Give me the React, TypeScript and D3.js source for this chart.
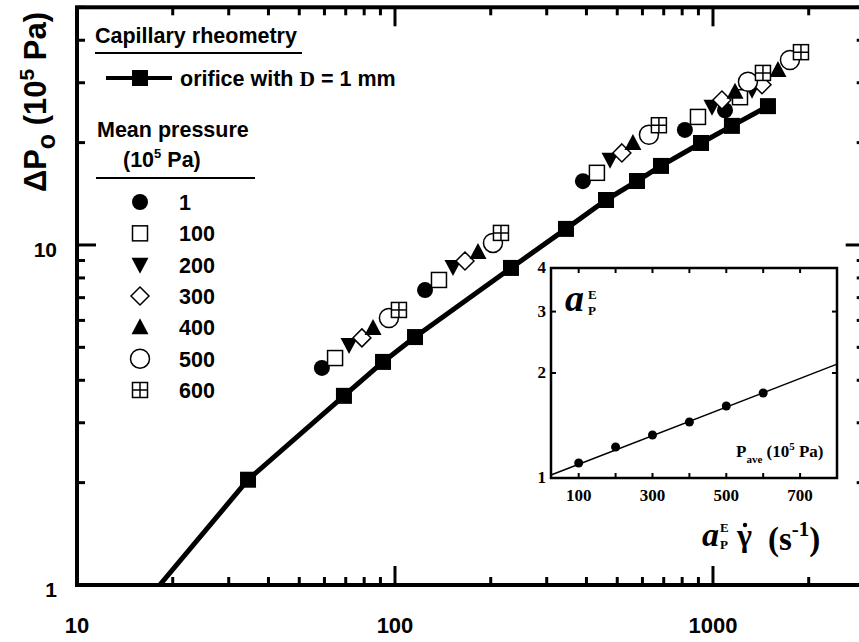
import React from 'react';
import * as d3 from 'd3';

// orifice with D = 1 mm (filled squares joined by a thick line)
const orificeX = [34.5, 69.1, 91.7, 115.6, 231.6, 344.9, 460.9, 576.8, 686.3, 917, 1147, 1489];
const orificeY = [2.04, 3.6, 4.53, 5.36, 8.56, 11.15, 13.56, 15.42, 17.08, 19.95, 22.4, 25.6];
const orificeLineStart = [18.2, 1.0];

// mean pressure series (10^5 Pa) -> shifted rate / pressure drop
const pressures = ['1', '100', '200', '300', '400', '500', '600'];
const markerKinds = ['filledCircle', 'openSquare', 'downTri', 'diamond', 'upTri', 'openCircle', 'grid'];
const seriesX = [
  [58.9, 124.3, 389.9, 816, 1091],
  [64.8, 137.5, 431.5, 897, 1216],
  [71.7, 152.2, 474.5, 993, 1327],
  [78.7, 166, 517, 1067, 1426],
  [85.3, 182.4, 560, 1173, 1601],
  [95.7, 203.3, 629, 1288, 1746],
  [102.9, 215.4, 676, 1436, 1891],
];
const seriesY = [
  [4.35, 7.37, 15.4, 21.8, 24.9],
  [4.65, 7.89, 16.3, 23.8, 27.2],
  [5.08, 8.62, 17.8, 25.5, 28.6],
  [5.33, 8.97, 18.65, 26.7, 29.6],
  [5.7, 9.54, 19.95, 28.2, 32.7],
  [6.1, 10.14, 21.1, 30.2, 35.0],
  [6.44, 10.85, 22.5, 32.06, 36.9],
];

// inset: shift factor vs mean pressure
const insetP = [100, 200, 300, 400, 500, 600];
const insetA = [1.104, 1.227, 1.328, 1.447, 1.609, 1.753];
const insetFit = [[25, 1.02], [800, 2.12]];
const insetXTicks = [100, 200, 300, 400, 500, 600, 700];
const insetXLabels = [100, 300, 500, 700];
const insetYTicks = [1, 2, 3, 4];

const xMajor = [10, 100, 1000];
const yMajor = [1, 10];

const SANS = '"Liberation Sans", Arial, sans-serif';
const SERIF = '"Liberation Serif", "Times New Roman", serif';

function Marker({ kind, cx, cy }: { kind: string; cx: number; cy: number }) {
  const sw = 1.5;
  switch (kind) {
    case 'filledCircle':
      return <circle cx={cx} cy={cy} r={8} fill="#000" />;
    case 'openSquare':
      return <rect x={cx - 7.5} y={cy - 7.5} width={15} height={15} fill="#fff" stroke="#000" strokeWidth={sw} />;
    case 'downTri':
      return <path d={`M${cx - 8.5},${cy - 7}L${cx + 8.5},${cy - 7}L${cx},${cy + 9}Z`} fill="#000" />;
    case 'upTri':
      return <path d={`M${cx},${cy - 9}L${cx + 8.5},${cy + 7}L${cx - 8.5},${cy + 7}Z`} fill="#000" />;
    case 'diamond':
      return <path d={`M${cx},${cy - 9}L${cx + 9},${cy}L${cx},${cy + 9}L${cx - 9},${cy}Z`} fill="#fff" stroke="#000" strokeWidth={sw} />;
    case 'openCircle':
      return <circle cx={cx} cy={cy} r={9.5} fill="#fff" stroke="#000" strokeWidth={sw} />;
    case 'grid':
      return (
        <g>
          <rect x={cx - 7.5} y={cy - 7.5} width={15} height={15} fill="#fff" stroke="#000" strokeWidth={sw} />
          <line x1={cx} x2={cx} y1={cy - 7.5} y2={cy + 7.5} stroke="#000" strokeWidth={sw} />
          <line x1={cx - 7.5} x2={cx + 7.5} y1={cy} y2={cy} stroke="#000" strokeWidth={sw} />
        </g>
      );
    default:
      return null;
  }
}

export default function App() {
  const width = 859;
  const height = 642;
  const left = 77, right = 864.7, top = 7.3, bottom = 585;

  const x = d3.scaleLog().domain([10, 3000]).range([left, right]);
  const y = d3.scaleLog().domain([1, 50]).range([bottom, top]);

  const xTicks = x.ticks();
  const yTicks = y.ticks();

  const orificePts: [number, number][] = [orificeLineStart as [number, number], ...orificeX.map((v, i) => [v, orificeY[i]] as [number, number])];
  const line = d3.line<[number, number]>().x(d => x(d[0])).y(d => y(d[1]));

  // inset scales
  const ix = d3.scaleLinear().domain([25, 800]).range([551, 837]);
  const iy = d3.scaleLog().domain([1, 4]).range([478, 268]);
  const insetLine = d3.line<number[]>().x(d => ix(d[0])).y(d => iy(d[1]));

  const legRowY = d3.scaleLinear().domain([0, 6]).range([202, 390]);

  return (
    <svg width={width} height={height} style={{ position: 'absolute', left: 0, top: 0, background: '#fff' }}>
      <rect width={width} height={height} fill="#fff" />
      <defs>
        <clipPath id="plotClip">
          <rect x={left} y={top} width={right - left} height={bottom - top} />
        </clipPath>
      </defs>

      {/* ticks: bottom and top */}
      {xTicks.map(t => {
        const major = xMajor.includes(t);
        const len = major ? 19 : 8;
        return (
          <g key={'xt' + t}>
            <line x1={x(t)} x2={x(t)} y1={bottom} y2={bottom - len} stroke="#000" strokeWidth={3} />
            <line x1={x(t)} x2={x(t)} y1={top} y2={top + len} stroke="#000" strokeWidth={3} />
          </g>
        );
      })}
      {yTicks.map(t => {
        const major = yMajor.includes(t);
        const len = major ? 19 : 8;
        return (
          <g key={'yt' + t}>
            <line x1={left} x2={left + len} y1={y(t)} y2={y(t)} stroke="#000" strokeWidth={3} />
            <line x1={right} x2={right - len} y1={y(t)} y2={y(t)} stroke="#000" strokeWidth={3} />
          </g>
        );
      })}
      <rect x={left} y={top} width={right - left} height={bottom - top} fill="none" stroke="#000" strokeWidth={4} />

      {/* tick labels */}
      {xMajor.map(t => (
        <text key={'xl' + t} x={x(t)} y={633} textAnchor="middle" fontFamily={SANS} fontWeight="bold" fontSize={22}>{t}</text>
      ))}
      {yMajor.map(t => (
        <text key={'yl' + t} x={57} y={y(t) + 12} textAnchor="end" fontFamily={SANS} fontWeight="bold" fontSize={21}>{t}</text>
      ))}

      {/* y axis title */}
      <text transform="translate(46,102) rotate(-90)" textAnchor="middle" fontFamily={SANS} fontWeight="bold" fontSize={31}>
        ΔP<tspan dy={9} fontSize={25}>o</tspan><tspan dy={-9}> (10</tspan><tspan dy={-12} fontSize={21}>5</tspan><tspan dy={12}> Pa)</tspan>
      </text>

      {/* data */}
      <g clipPath="url(#plotClip)">
        <path d={line(orificePts) || ''} fill="none" stroke="#000" strokeWidth={5} strokeLinejoin="round" />
        {orificeX.map((v, i) => (
          <rect key={'o' + i} x={x(v) - 8} y={y(orificeY[i]) - 8} width={16} height={16} fill="#000" />
        ))}
        {seriesX.map((xs, s) => xs.map((v, i) => (
          <Marker key={`s${s}-${i}`} kind={markerKinds[s]} cx={x(v)} cy={y(seriesY[s][i])} />
        )))}
      </g>

      {/* legend */}
      <text x={95} y={43} fontFamily={SANS} fontWeight="bold" fontSize={21.5}>Capillary rheometry</text>
      <line x1={95} x2={302} y1={53} y2={53} stroke="#000" strokeWidth={2} />
      <line x1={106} x2={172} y1={78} y2={78} stroke="#000" strokeWidth={4} />
      <rect x={132} y={70} width={16} height={16} fill="#000" />
      <text x={180} y={86} fontFamily={SANS} fontWeight="bold" fontSize={21.5}>
        orifice with <tspan fontFamily={SERIF}>D</tspan> = 1 mm
      </text>
      <text x={97} y={137} fontFamily={SANS} fontWeight="bold" fontSize={21.5}>Mean pressure</text>
      <text x={123} y={167} fontFamily={SANS} fontWeight="bold" fontSize={21.5}>
        (10<tspan dy={-9} fontSize={13}>5</tspan><tspan dy={9}> Pa)</tspan>
      </text>
      <line x1={96} x2={255} y1={178} y2={178} stroke="#000" strokeWidth={2} />
      {pressures.map((p, i) => (
        <g key={'leg' + p}>
          <Marker kind={markerKinds[i]} cx={140} cy={legRowY(i)} />
          <text x={179} y={legRowY(i) + 8} fontFamily={SANS} fontWeight="bold" fontSize={21.5}>{p}</text>
        </g>
      ))}

      {/* x axis title */}
      <text x={702} y={546} fontFamily={SERIF} fontStyle="italic" fontWeight="bold" fontSize={34}>a</text>
      <text x={720} y={532} fontFamily={SERIF} fontWeight="bold" fontSize={13}>E</text>
      <text x={720} y={549} fontFamily={SERIF} fontWeight="bold" fontSize={13}>P</text>
      <text x={737} y={546} fontFamily={SERIF} fontWeight="bold" fontSize={32}>γ</text>
      <circle cx={745} cy={525} r={2.2} fill="#000" />
      <text x={768} y={550} fontFamily={SERIF} fontWeight="bold" fontSize={33}>
        (s<tspan dy={-14} fontSize={21}>-1</tspan><tspan dy={14}>)</tspan>
      </text>

      {/* inset */}
      <rect x={551} y={268} width={286} height={210} fill="#fff" />
      {insetXTicks.map(t => (
        <g key={'ixt' + t}>
          <line x1={ix(t)} x2={ix(t)} y1={268} y2={273} stroke="#000" strokeWidth={2} />
          <line x1={ix(t)} x2={ix(t)} y1={478} y2={473} stroke="#000" strokeWidth={2} />
        </g>
      ))}
      {insetYTicks.map(t => (
        <g key={'iyt' + t}>
          <line x1={551} x2={556} y1={iy(t)} y2={iy(t)} stroke="#000" strokeWidth={2} />
          <line x1={837} x2={832} y1={iy(t)} y2={iy(t)} stroke="#000" strokeWidth={2} />
        </g>
      ))}
      <path d={insetLine(insetFit) || ''} fill="none" stroke="#000" strokeWidth={1.5} />
      {insetP.map((p, i) => (
        <circle key={'ip' + p} cx={ix(p)} cy={iy(insetA[i])} r={4.5} fill="#000" />
      ))}
      <rect x={551} y={268} width={286} height={210} fill="none" stroke="#000" strokeWidth={2.5} />
      {insetXLabels.map(t => (
        <text key={'ixl' + t} x={ix(t)} y={501} textAnchor="middle" fontFamily={SERIF} fontWeight="bold" fontSize={17}>{t}</text>
      ))}
      {insetYTicks.map(t => (
        <text key={'iyl' + t} x={546} y={iy(t) + 5} textAnchor="end" fontFamily={SERIF} fontWeight="bold" fontSize={17}>{t}</text>
      ))}
      <text x={565} y={311} fontFamily={SERIF} fontStyle="italic" fontWeight="bold" fontSize={38}>a</text>
      <text x={588} y={299} fontFamily={SERIF} fontWeight="bold" fontSize={13}>E</text>
      <text x={588} y={315} fontFamily={SERIF} fontWeight="bold" fontSize={13}>P</text>
      <text x={736} y={457} fontFamily={SERIF} fontWeight="bold" fontSize={17}>
        P<tspan dy={6} fontSize={11}>ave</tspan><tspan dy={-6}> (10</tspan><tspan dy={-7} fontSize={11}>5</tspan><tspan dy={7}> Pa)</tspan>
      </text>
    </svg>
  );
}
